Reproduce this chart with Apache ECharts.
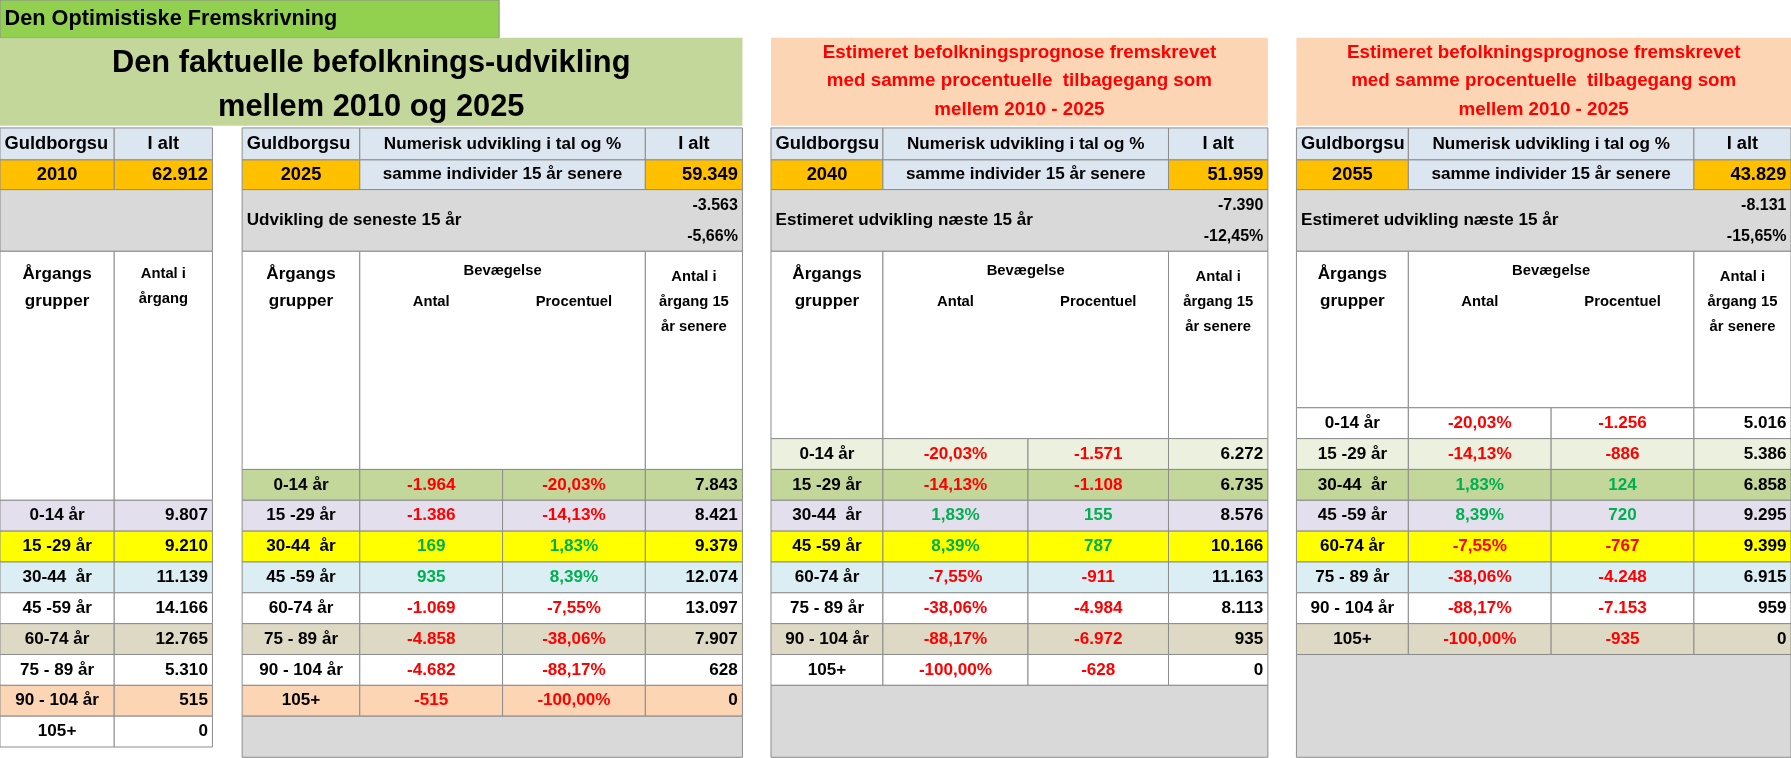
<!DOCTYPE html>
<html><head><meta charset="utf-8">
<script src="https://cdn.jsdelivr.net/npm/echarts@6/dist/echarts.min.js"></script>
<style>html,body{margin:0;padding:0;background:#fff}#c{width:1791px;height:758px}</style>
</head><body><div id="c"></div>
<script>
// ---- data ----
const groups = ['0-14 år','15 -29 år','30-44  år','45 -59 år','60-74 år','75 - 89 år','90 - 104 år','105+'];
const y2010 = ['9.807','9.210','11.139','14.166','12.765','5.310','515','0'];
const p2Antal = ['-1.964','-1.386','169','935','-1.069','-4.858','-4.682','-515'];
const p2Pct = ['-20,03%','-14,13%','1,83%','8,39%','-7,55%','-38,06%','-88,17%','-100,00%'];
const y2025 = ['7.843','8.421','9.379','12.074','13.097','7.907','628','0'];
const p3Pct = ['-20,03%','-14,13%','1,83%','8,39%','-7,55%','-38,06%','-88,17%','-100,00%'];
const p3Antal = ['-1.571','-1.108','155','787','-911','-4.984','-6.972','-628'];
const y2040 = ['6.272','6.735','8.576','10.166','11.163','8.113','935','0'];
const p4Pct = ['-20,03%','-14,13%','1,83%','8,39%','-7,55%','-38,06%','-88,17%','-100,00%'];
const p4Antal = ['-1.256','-886','124','720','-767','-4.248','-7.153','-935'];
const y2055 = ['5.016','5.386','6.858','9.295','9.399','6.915','959','0'];
const totals = {y2010:'62.912', y2025:'59.349', y2040:'51.959', y2055:'43.829'};
const changes = {p2:['-3.563','-5,66%'], p3:['-7.390','-12,45%'], p4:['-8.131','-15,65%']};

// ---- layout ----
const S = 1791/1568;
const C = {lb:'#dce6f1', or:'#ffc000', gr:'#d9d9d9', lav:'#e4dfec', yel:'#ffff00', blu:'#daeef3', w:'#ffffff', tan:'#ddd9c4', pch:'#fcd5b4', gn:'#c4d79b', lgn:'#ebf1de'};
const RED='#ff0000', GRN='#00b050', BLK='#000';
const els = [];
function rect(x0,y0,x1,y1,fill,stroke){
  els.push({type:'rect',shape:{x:x0*S,y:y0*S,width:(x1-x0)*S,height:(y1-y0)*S},style:{fill:fill,stroke:stroke===undefined?'#8c8c8c':stroke,lineWidth:1}});
}
function txt(x,y,t,align,color,size){
  els.push({type:'text',z:10,style:{text:t,x:x*S,y:y*S,textAlign:align||'center',textVerticalAlign:'middle',fill:color||BLK,font:'bold '+((size||15)*S).toFixed(1)+'px "Liberation Sans", Arial, sans-serif'}});
}
function cell(x0,y0,x1,y1,fill,t,align,color,size){
  rect(x0,y0,x1,y1,fill);
  if(t!==undefined&&t!==''){
    const x = align==='right'? x1-4 : align==='left'? x0+4 : (x0+x1)/2;
    txt(x,(y0+y1)/2,t,align,color,size);
  }
}
const col = v => v.startsWith('-') ? RED : GRN;
const RH = 27;

// titles
cell(0,0,437,33,'#92d050','Den Optimistiske Fremskrivning','left',BLK,19);
rect(0,33,650,110,C.gn,'none');
txt(325,56,'Den faktuelle befolknings-udvikling','center',BLK,27);
txt(325,94,'mellem 2010 og 2025','center',BLK,27);
[[675,1110],[1135,1568]].forEach(([a,b])=>{
  rect(a,33,b,110,C.pch,'none');
  const m=(a+b)/2;
  txt(m,46,'Estimeret befolkningsprognose fremskrevet','center',RED,16.5);
  txt(m,71,'med samme procentuelle  tilbagegang som','center',RED,16.5);
  txt(m,96,'mellem 2010 - 2025','center',RED,16.5);
});

// panel 1
cell(0,112,100,140,C.lb,'Guldborgsu','left',BLK,16);
cell(100,112,186,140,C.lb,'I alt',undefined,BLK,16);
cell(0,140,100,166,C.or,'2010',undefined,BLK,16);
cell(100,140,186,166,C.or,totals.y2010,'right',BLK,16);
cell(0,166,186,220,C.gr);
rect(0,220,100,438,C.w); rect(100,220,186,438,C.w);
txt(50,240,'Årgangs','center',BLK,15); txt(50,264,'grupper','center',BLK,15);
txt(143,240,'Antal i','center',BLK,13); txt(143,262,'årgang','center',BLK,13);
const f1=[C.lav,C.yel,C.blu,C.w,C.tan,C.w,C.pch,C.w];
groups.forEach((g,i)=>{const y=438+i*RH; cell(0,y,100,y+RH,f1[i],g); cell(100,y,186,y+RH,f1[i],y2010[i],'right');});

// generic panel
function panel(x, cols, yr, tot, ch, chLabel, startY, fills, c2, c3, c4){
  const [a,b,c,d,e]=cols;
  cell(a,112,b,140,C.lb,'Guldborgsu','left',BLK,16);
  cell(b,112,d,140,C.lb,'Numerisk udvikling i tal og %');
  cell(d,112,e,140,C.lb,'I alt',undefined,BLK,16);
  cell(a,140,b,166,C.or,yr,undefined,BLK,16);
  cell(b,140,d,166,C.lb,'samme individer 15 år senere');
  cell(d,140,e,166,C.or,tot,'right',BLK,16);
  rect(a,166,e,220,C.gr);
  txt(a+4,193,chLabel,'left',BLK,15);
  txt(e-4,180,ch[0],'right',BLK,14); txt(e-4,207,ch[1],'right',BLK,14);
  rect(a,220,b,startY,C.w); rect(b,220,d,startY,C.w); rect(d,220,e,startY,C.w);
  txt((a+b)/2,240,'Årgangs','center',BLK,15); txt((a+b)/2,264,'grupper','center',BLK,15);
  txt((b+d)/2,237,'Bevægelse','center',BLK,13);
  txt((b+c)/2,264,'Antal','center',BLK,13); txt((c+d)/2,264,'Procentuel','center',BLK,13);
  txt((d+e)/2,242,'Antal i','center',BLK,13); txt((d+e)/2,264,'årgang 15','center',BLK,13); txt((d+e)/2,286,'år senere','center',BLK,13);
  groups.forEach((g,i)=>{const y=startY+i*RH;
    cell(a,y,b,y+RH,fills[i],g);
    cell(b,y,c,y+RH,fills[i],c2[i],'center',col(c2[i]));
    cell(c,y,d,y+RH,fills[i],c3[i],'center',col(c3[i]));
    cell(d,y,e,y+RH,fills[i],c4[i],'right');
  });
  rect(a,startY+8*RH,e,663,C.gr);
}
panel(212,[212,315,440,565,650],'2025',totals.y2025,changes.p2,'Udvikling de seneste 15 år',411,
  [C.gn,C.lav,C.yel,C.blu,C.w,C.tan,C.w,C.pch],p2Antal,p2Pct,y2025);
panel(675,[675,773,900,1023,1110],'2040',totals.y2040,changes.p3,'Estimeret udvikling næste 15 år',384,
  [C.lgn,C.gn,C.lav,C.yel,C.blu,C.w,C.tan,C.w],p3Pct,p3Antal,y2040);
panel(1135,[1135,1233,1358,1483,1568],'2055',totals.y2055,changes.p4,'Estimeret udvikling næste 15 år',357,
  [C.w,C.lgn,C.gn,C.lav,C.yel,C.blu,C.w,C.tan],p4Pct,p4Antal,y2055);

const chart = echarts.init(document.getElementById('c'));
chart.setOption({animation:false, graphic:{elements:els}});
</script></body></html>
